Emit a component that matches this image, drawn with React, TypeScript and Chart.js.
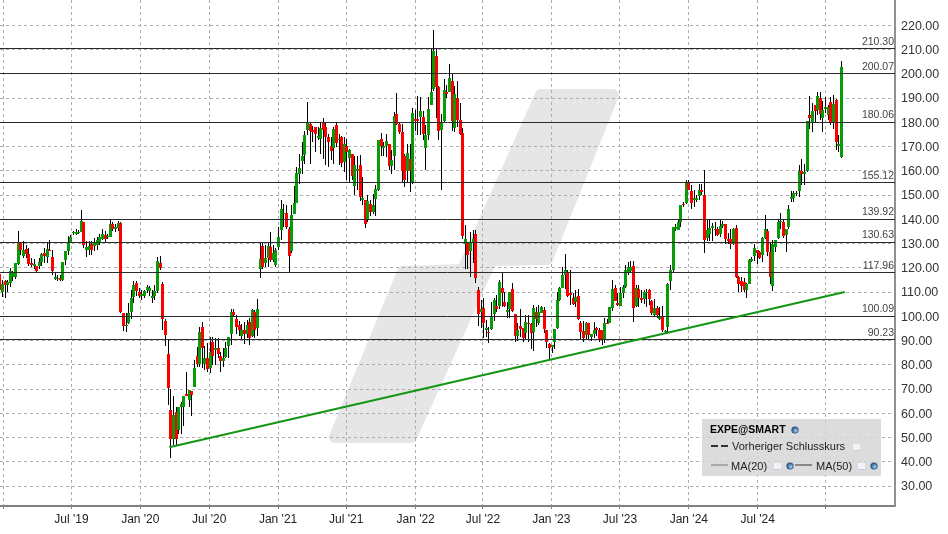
import React, { useEffect, useRef } from "react";
import { Chart, registerables } from "chart.js";

Chart.register(...registerables);

type Candle = [number, number, number, number]; // open, high, low, close

const candles2019: Candle[] = [
  [117.6,119,109,111],[109.9,115.1,108,113.5],[114.4,115.1,107.6,113.1],[113.1,115,110,114.3],[113.8,119.9,112.1,118.5],
  [116.2,118.8,114.5,117.9],[116.2,122,115.5,122],[121.7,135.3,121.3,130.5],[130.5,130.5,125.4,127.2],[124.7,130.9,124,127.2],
  [127.9,129.5,124,125.7],[125.7,128.1,120.9,121.6],[122,124,120.5,121.3],[120.9,123.5,119.5,121.7],[120.9,120.9,117.9,118.8],
  [120.6,124,119.5,122.4],[122.4,126.1,120.9,125.8],[126.1,128.1,122,124.7],[124.4,130.2,122,127.7],[127.5,131.6,126.8,126.8],
  [124.4,127.5,117.2,118.8],[115.4,117.9,115.1,116.2],[115.4,117,114.6,115.9],[115.8,117.2,114.4,114.8],[114.8,122.5,114.4,122.5],
  [123.3,126.8,121.3,126.8],[127,133,125.4,130.6],[130.5,133.6,130.2,132.9],[134.2,135,133.5,134.8],[134,136,133.6,134.7],
  [134.3,135.5,134,134.8],[134.7,143.9,134.7,139.1],[139,139,128.1,129.2],[127.2,130.9,124.4,128.7],[127.5,131,125.4,129],
  [129.9,130.9,125.4,127.5],[129.1,132.2,126.8,130.2],[129.5,132.9,127.5,131.6],[130.5,134,129.5,132.7],[131.8,135.9,131.6,134],
  [133.6,135,130.2,131.8],[132.7,134,132,133.2],[132.9,139.8,132.7,138.1],[138.1,138.7,135,135.9],[136.1,138.1,134.7,136.8],
  [136.4,139.5,135.2,138.4],[138.4,138.7,101.4,101.7],[101.2,101.4,93.9,96.2],[95.9,101.4,93.5,96.6],[97.3,105.5,97,101.4],
  [101.7,111,98.7,107.6],[108,114.7,105.5,112.7],[113.8,114.4,108.3,110.3],[110.2,111.7,107.6,108.5],
];
const candles2020: Candle[] = [
  [108.3,111,106.9,109],[108.3,111,107.6,110.3],[110.7,113,109.6,112.1],[110.3,112.5,108.5,111.7],[107.5,111,105.5,108.5],
  [108.3,113,106.9,110.3],[110.3,124.4,109.6,122.9],[122,124.7,119.2,119.9],[113.5,114.2,94.3,98.7],[97.9,99,87.7,92.2],
  [84.3,90.2,63.5,70.3],[61.4,70,41.5,49.5],[49.5,67.3,47,59.4],[60.5,62.8,46.8,49.5],[53.2,62.8,51.4,62.8],
  [62.8,64.5,51.4,63.8],[62.7,67.3,54.6,67.3],[67.9,76.9,67,67],[65.5,69.8,62.8,69.8],[69,69,58.7,67.6],
  [71,82,71,78.5],[83.7,87.4,79.2,80.2],[80.3,95.7,79.2,93.6],[95.7,97.7,78.5,87],[80.2,87.9,77.9,82.7],
  [82.9,88.8,77.2,78.1],[78.5,91.6,76.5,85.4],[89.2,91.6,79.9,83.7],[86.1,91.1,79.9,86.8],[87,91.1,82.7,84.3],
  [83.7,85.4,77.2,81.6],[81.7,86.8,79.2,82.9],[83.3,89.5,82.7,87],[87.9,91.6,82.9,91.6],[92.5,103.2,88.1,101.6],
  [101.6,103.2,100,100.5],[98.7,100.5,92.9,95.4],[96.6,98,92,94.2],[92,97,90.2,94.2],[94.3,97.7,88.4,92.5],
  [92.9,98.4,91.2,96.6],[97.7,99.1,88.1,91.1],[91.8,103,91.6,102.8],[101.7,102.5,91,94.2],[95,107,91.8,103.1],
  [119.5,130.7,115.6,123.8],[129.1,130.7,119.7,120.4],[121.8,129.3,120.4,124.1],[124.1,130.7,120.4,129.1],[128.6,134.8,122.5,123.4],
  [123.2,129.3,122.5,125.9],[121.1,128,120.4,127.5],
];
const candles2021: Candle[] = [
  [128.4,136.9,127.3,132.8],[135.5,148,131.4,144.4],[142,146.4,137,142.6],[142.7,146,136.2,136.9],[136.2,136.9,118.4,124.8],
  [126.9,145.8,125.9,141.9],[142.3,153.7,142.3,146.9],[146.9,161.5,146.9,159.2],[158.5,167,154.7,161.2],[164,171.8,158.8,166.3],
  [166.6,176.6,162.9,174.8],[176.9,188.2,174.8,180.3],[179.3,180,162.6,176.6],[177,178.6,171.8,176.2],[178.1,178.1,167.7,175.2],
  [173.6,178,172.5,174.5],[173.2,180,167,177.5],[179.7,181.7,164.9,177],[178,180,162.2,173.8],[173.8,175,161.4,172],
  [170.1,173.8,164.3,168.1],[169.5,178,163,177.3],[178.9,179.7,169.8,171.5],[172.5,175.2,162.2,173.2],[174.1,174.5,161.5,163.3],
  [163.8,173.8,159.5,171.1],[170.4,173,156,167.7],[165.2,169,155,168.4],[167,167,156,157.8],[153.7,166.3,149.9,162.2],
  [160,166,152,160.8],[162.5,166.6,147.7,149.2],[147.8,157.4,146,148.9],[147.8,147.8,136.4,138.2],[139.6,149.9,138.9,147.4],
  [146.4,148,141.5,143],[143,150.6,142.3,145.8],[148.5,154,141.2,152.6],[151.9,172.5,151.5,172.5],[173.2,175.5,166.3,170.1],
  [169.6,172,166,170.4],[170.4,175.2,165.6,172.4],[171.1,171.1,160.2,162.1],[161.8,168.4,158.8,164.5],[166.3,184.1,160.2,182.5],
  [183.3,192,178.7,179.3],[179.3,180,175.2,175.9],[175.9,179.3,155.4,160],[166.1,167,153.3,156.1],[159.8,171,155.4,167.4],
  [165,171,151.3,159.8],[155.4,185.8,154.7,183.9],
];
const candles2022: Candle[] = [
  [181.4,185.2,176.6,180.7],[181.4,190.7,174.6,180.7],[182.2,190.3,174.6,184.7],[182.1,184.8,172.5,175],[169.5,178.7,160.2,174.8],
  [174.6,190.3,172.5,185.5],[187.2,210.4,187,192.4],[193.7,218,193,209.4],[207.4,210.2,181.9,194.4],[194.4,195,172.9,176.6],
  [177,183.5,151.9,179.8],[180.4,197.8,180,193.3],[192.6,195.5,190,191.7],[192.4,204,192.4,198.1],[197,199.9,176.6,180.7],
  [177.8,195,175.9,191.7],[190,197,178,181],[181,188,174.6,175.2],[175.6,177.5,132,133],[129.7,137.8,119.4,132],
  [130.4,130.4,119.4,125.2],[126.8,134.8,116,130.7],[130.7,135.5,122,132],[134.1,135.5,113.9,115.9],[110.7,112.2,96,100.8],
  [101.6,106.7,95,102.9],[103.3,107.4,90.9,97.1],[94.2,98.5,91.6,95.3],[93.7,95.7,88.9,93],[94.6,105.7,94.4,100.1],
  [100.8,107.4,98,106.7],[104.4,108.8,101.9,103],[104.4,114.9,103,114],[111.8,117.7,104,109.4],[106,110.1,104,104.2],
  [101.6,106,99.2,102.5],[103,110.1,99.4,109.9],[111.1,113.6,101.9,102.2],[101.1,101.1,89.6,92],[92,97.1,89.9,94.4],
  [95.8,102.9,91.6,94.8],[95.3,95.3,89.2,91.2],[93.3,100.5,90.3,97.8],[97.4,100.5,89.6,96.7],[97,97.1,86.6,93],
  [93.4,104.6,85.5,103.3],[101.6,104,95.7,98.8],[97.4,104.6,96.4,101.9],[101.5,104.4,101.2,104],[102.7,104,93,94.8],
  [94.4,94.4,87.1,89.2],[88.6,88.9,82.4,87.1],
];
const candles2023: Candle[] = [
  [87.2,88.2,84.8,88.2],[89.3,94.8,86.6,94.8],[95,110.1,94.8,106.6],[106.7,112.2,106.3,111.8],[111.8,120.4,111.5,117],
  [117,125.5,111.2,119.2],[118.3,119,108.1,108.3],[109.4,119,104.6,108.8],[107.4,109.4,104.6,104.9],[106,110.8,104,108.1],
  [108.2,111.2,98.5,98.9],[97.1,98.1,90.3,93.7],[94.1,98.1,89.6,90.9],[92.3,97.8,90.7,97.4],[97.1,97.4,90.3,92.3],
  [91.4,92.7,89.9,92.7],[92.7,97.8,90.9,94.4],[95,95.5,92,94.4],[94.4,95,89.6,90.3],[94.4,94.4,88.2,90.3],
  [90.3,99.2,88.9,97.1],[97.4,98.9,96.8,96.8],[97.4,104,97.1,103.7],[103.3,114.9,102.3,111.2],[111.5,112.9,106.3,106.4],
  [105.3,109.8,104.4,104.6],[104.4,112.2,104.1,109.8],[109.8,112.9,107.4,112.2],[111.9,121.1,111.5,119],[118.3,122.5,117,120.4],
  [118.7,122.7,118,120.3],[120.6,123,97.5,103.6],[104.3,112.8,103.9,111.7],[111.4,112.8,103.9,107.7],[107.6,111,105.5,106.9],
  [107.3,111,105,110],[109.5,111.2,103.9,110.2],[111,111.4,104.5,107.3],[106.5,106.9,100.5,101.2],[100.6,107.3,100,103.6],
  [103.5,104.2,99.4,100.7],[98.8,103.9,98.4,99.7],[100.3,104.3,93.6,94.3],[93.4,94.5,92.5,93.9],[95.7,113.8,92.9,113.2],
  [114.4,121,110.7,119.2],[119,136.8,118.3,136.8],[136.1,138.1,135,136.8],[135.7,140.2,135.4,138.8],[138.9,146,137,146],
  [146.4,147,145,145.9],[146.7,156,146.4,155.3],
];
const candles2024: Candle[] = [
  [155.3,156.4,151.9,152.2],[151.6,154,144.4,146.8],[147.8,151.9,145,148.9],[147.8,150,147,148.9],[149.8,154.6,147.8,152.2],
  [152.2,154.4,150,151.4],[150.1,160.4,125.9,131.6],[132.4,140.2,131.1,135.7],[133.8,140.2,131.1,136.3],[136.5,138.5,131.1,137.4],
  [135.9,139,133,135.5],[135.9,137,133,133.7],[133.8,140.2,132.5,137.2],[137.4,139.5,136.5,138.2],[138,138.2,130,132],
  [132,134.4,130,131],[131.8,136.1,127.9,129.7],[130,136.4,129.5,136.1],[136.5,137.8,115.6,116.3],[116.3,116.5,110.1,113.3],
  [114.5,116,110,112.4],[114.2,115.6,110.1,110.8],[110.8,113.8,107.4,113.5],[113.5,123.8,113.5,123.4],[122.8,124.5,122.5,123.8],
  [124.9,130,122.8,128.3],[127.5,127.5,121.7,125.9],[126.5,127,123.8,124.2],[125.2,132.5,122.4,132.2],[132.4,141.9,132,136.1],
  [135.2,136.1,125,126.5],[126.5,130.2,113.3,116],[112.4,131.6,110.5,130],[128.6,131.3,126.5,131.3],[132.4,139.6,132,138.9],
  [139,142.6,136,139.5],[138.9,139.6,132.3,133],[133.4,136.1,126.5,136],[136.8,145.7,136.1,144.4],[148.5,151.5,147,149.2],
  [148.8,151.5,147.2,151],[150.4,151.5,149.8,151],[151.5,162.2,149.2,159.9],[159.9,164.9,154,158.8],[158.8,162.9,154,159.5],
  [159.9,180.7,159.7,180.7],[183,191,177.3,181.7],[180.3,187.8,175.9,184.8],[187.1,187.1,180.3,184.8],[185.2,192.3,183,190.7],
  [190,192.3,181,183.4],[181.8,188.9,176.2,185.1],
];
const candles2025: Candle[] = [
  [185.5,190.3,184,186.2],[183.2,187,181,186.4],[188.2,190.3,179,180],[179.6,191.2,177.3,187.5],[189.2,189.6,168.4,171.8],
  [170.3,174.8,167.9,171.1],[165.6,205.2,165.2,202.6],
];

const yTicks = [30,40,50,60,70,80,90,100,110,120,130,140,150,160,170,180,190,200,210,220];
const xTickWeeks = [1.5,27.4,53.6,79.8,106,131.9,158.3,183.9,209.9,236,262.2,288.4,314.3];
const xTickLabels = ["","Jul '19","Jan '20","Jul '20","Jan '21","Jul '21","Jan '22","Jul '22","Jan '23","Jul '23","Jan '24","Jul '24",""];
const levels = [210.3,200.07,180.06,155.12,139.92,130.63,117.96,100.09,90.23];
const trendWeeks = [64.6,321.5];
const trendValues = [46,110];

const candles = [...candles2019,...candles2020,...candles2021,...candles2022,...candles2023,...candles2024,...candles2025];

const UP = "#089a08";
const DOWN = "#ff0000";
const FONT = "'Liberation Sans', Arial, sans-serif";
const X_MIN = 0.25, X_MAX = 340.6;

function globe(ctx: CanvasRenderingContext2D, x: number, y: number) {
  const g = ctx.createRadialGradient(x + 1, y + 1, 0.5, x, y, 4);
  g.addColorStop(0, "#9cc4e6"); g.addColorStop(0.6, "#3f74a6"); g.addColorStop(1, "#16304f");
  ctx.fillStyle = g;
  ctx.beginPath(); ctx.arc(x, y, 3.6, 0, Math.PI * 2); ctx.fill();
}
function box(ctx: CanvasRenderingContext2D, x: number, y: number) {
  ctx.fillStyle = "#f2f2fb";
  ctx.fillRect(x - 3, y - 3, 7, 7);
  ctx.fillStyle = "#c9c9d9";
  ctx.fillRect(x - 3, y + 3, 7, 1);
}

const chromePlugin = {
  id: "chrome",
  beforeDraw(chart: any) {
    const ctx = chart.ctx;
    ctx.save();
    ctx.fillStyle = "#ffffff";
    ctx.fillRect(0, 0, chart.width, chart.height);
    // watermark logo
    ctx.fillStyle = ctx.strokeStyle = "#e6e6e6";
    ctx.lineWidth = 12; ctx.lineJoin = "round";
    ctx.beginPath();
    ctx.moveTo(541, 95); ctx.lineTo(613, 95); ctx.lineTo(547, 259); ctx.lineTo(491, 260);
    ctx.lineTo(411, 437); ctx.lineTo(335, 437); ctx.lineTo(403, 272); ctx.lineTo(463, 270);
    ctx.closePath(); ctx.fill(); ctx.stroke();
    ctx.restore();
  },
  beforeDatasetsDraw(chart: any) {
    chart.getSortedVisibleDatasetMetas().forEach((m: any) => {
      if (m.type === "bar") {
        m.data.forEach((el: any) => {
          el.x = Math.round(el.x) + 0.5;
          el.y = Math.round(el.y);
          el.base = Math.round(el.base);
          if (el.base === el.y) el.base = el.y + 1;
        });
      } else if (levels.includes(Number(m.label))) {
        m.data.forEach((el: any) => { el.y = Math.floor(el.y) + 0.5; });
      }
    });
  },
  afterDraw(chart: any) {
    const ctx = chart.ctx, y = chart.scales.y, right = chart.chartArea.right;
    ctx.save();
    ctx.fillStyle = "#444444";
    ctx.font = `10.5px ${FONT}`;
    ctx.textAlign = "right"; ctx.textBaseline = "middle";
    levels.forEach((v) => ctx.fillText(v.toFixed(2), right - 1, y.getPixelForValue(v) - 7));

    // legend panel
    ctx.fillStyle = "rgba(214,214,214,0.85)";
    ctx.fillRect(702, 419, 179, 57);
    ctx.textAlign = "left";
    ctx.fillStyle = "#000000";
    ctx.font = `bold 10.5px ${FONT}`;
    ctx.fillText("EXPE@SMART", 710, 430);
    globe(ctx, 795, 430);
    ctx.font = `11px ${FONT}`;
    ctx.fillStyle = "#222222";
    ctx.fillText("Vorheriger Schlusskurs", 732, 447);
    ctx.fillText("MA(20)", 731, 467);
    ctx.fillText("MA(50)", 816, 467);
    ctx.lineWidth = 2;
    ctx.strokeStyle = "#333333";
    ctx.setLineDash([7, 3]);
    ctx.beginPath(); ctx.moveTo(711, 446); ctx.lineTo(728, 446); ctx.stroke();
    ctx.setLineDash([]);
    ctx.strokeStyle = "#aaaaaa";
    ctx.beginPath(); ctx.moveTo(711, 465); ctx.lineTo(728, 465); ctx.stroke();
    ctx.strokeStyle = "#888888";
    ctx.beginPath(); ctx.moveTo(795, 465); ctx.lineTo(812, 465); ctx.stroke();
    box(ctx, 856, 447); box(ctx, 777, 466); box(ctx, 861, 466);
    globe(ctx, 790, 466); globe(ctx, 874, 466);
    ctx.restore();
  },
};

const noPad = (s: any) => { s.paddingTop = s.paddingBottom = s.paddingLeft = s.paddingRight = 0; };

export default function App() {
  const ref = useRef<HTMLCanvasElement>(null);
  useEffect(() => {
    const edge = [X_MIN, X_MAX];
    const chart = new Chart(ref.current as HTMLCanvasElement, {
      type: "bar",
      data: {
        datasets: [
          {
            label: "wick", order: 5, grouped: false, barThickness: 1, inflateAmount: 0,
            backgroundColor: "#000000",
            data: candles.map((c, i) => ({ x: i, y: [c[2], c[1]] })),
          },
          {
            label: "body", order: 4, grouped: false, barThickness: 3, inflateAmount: 0,
            backgroundColor: candles.map((c) => (c[3] >= c[0] ? UP : DOWN)),
            data: candles.map((c, i) => ({ x: i, y: [c[0], c[3]] })),
          },
          ...levels.map((v) => ({
            type: "line", label: String(v), order: 3, borderColor: "#2a2a2a", borderWidth: 1,
            pointRadius: 0, data: edge.map((x) => ({ x, y: v })),
          })),
          {
            type: "line", label: "trend", order: 1, borderColor: "#149614", borderWidth: 2,
            pointRadius: 0, data: trendWeeks.map((x, i) => ({ x, y: trendValues[i] })),
          },
        ],
      } as any,
      options: {
        responsive: false,
        animation: false,
        devicePixelRatio: 1,
        layout: { padding: 0 },
        plugins: { legend: { display: false }, tooltip: { enabled: false } },
        scales: {
          x: {
            type: "linear", min: X_MIN, max: X_MAX, offset: false,
            afterBuildTicks: (s: any) => { s.ticks = xTickWeeks.map((value) => ({ value })); },
            afterFit: (s: any) => { s.height = 28; noPad(s); },
            border: { display: true, color: "#808080", width: 2, dash: [3, 3] },
            grid: { offset: false, color: "#adadad", lineWidth: 1, tickLength: 3, tickColor: "#808080", drawTicks: true },
            ticks: {
              autoSkip: false, maxRotation: 0, padding: 3, color: "#222222",
              font: { family: FONT, size: 12 },
              callback: (v: any) => { const i = xTickWeeks.indexOf(v); return i >= 0 ? xTickLabels[i] : ""; },
            },
          },
          y: {
            type: "linear", position: "right", min: 21.77, max: 230.43,
            afterBuildTicks: (s: any) => { s.ticks = yTicks.map((value) => ({ value })); },
            afterFit: (s: any) => { s.width = 53; noPad(s); },
            border: { display: true, color: "#909090", width: 2, dash: [3, 3] },
            grid: { color: "#adadad", lineWidth: 1, drawTicks: false },
            ticks: {
              padding: 6, labelOffset: 1, color: "#333333", font: { family: FONT, size: 12.5 },
              callback: (v: any) => Number(v).toFixed(2),
            },
          },
        },
      } as any,
      plugins: [chromePlugin],
    });
    return () => chart.destroy();
  }, []);
  return (
    <div style={{ position: "absolute", left: 0, top: 0, width: 948, height: 534 }}>
      <canvas ref={ref} width={948} height={534} style={{ display: "block" }} />
    </div>
  );
}
